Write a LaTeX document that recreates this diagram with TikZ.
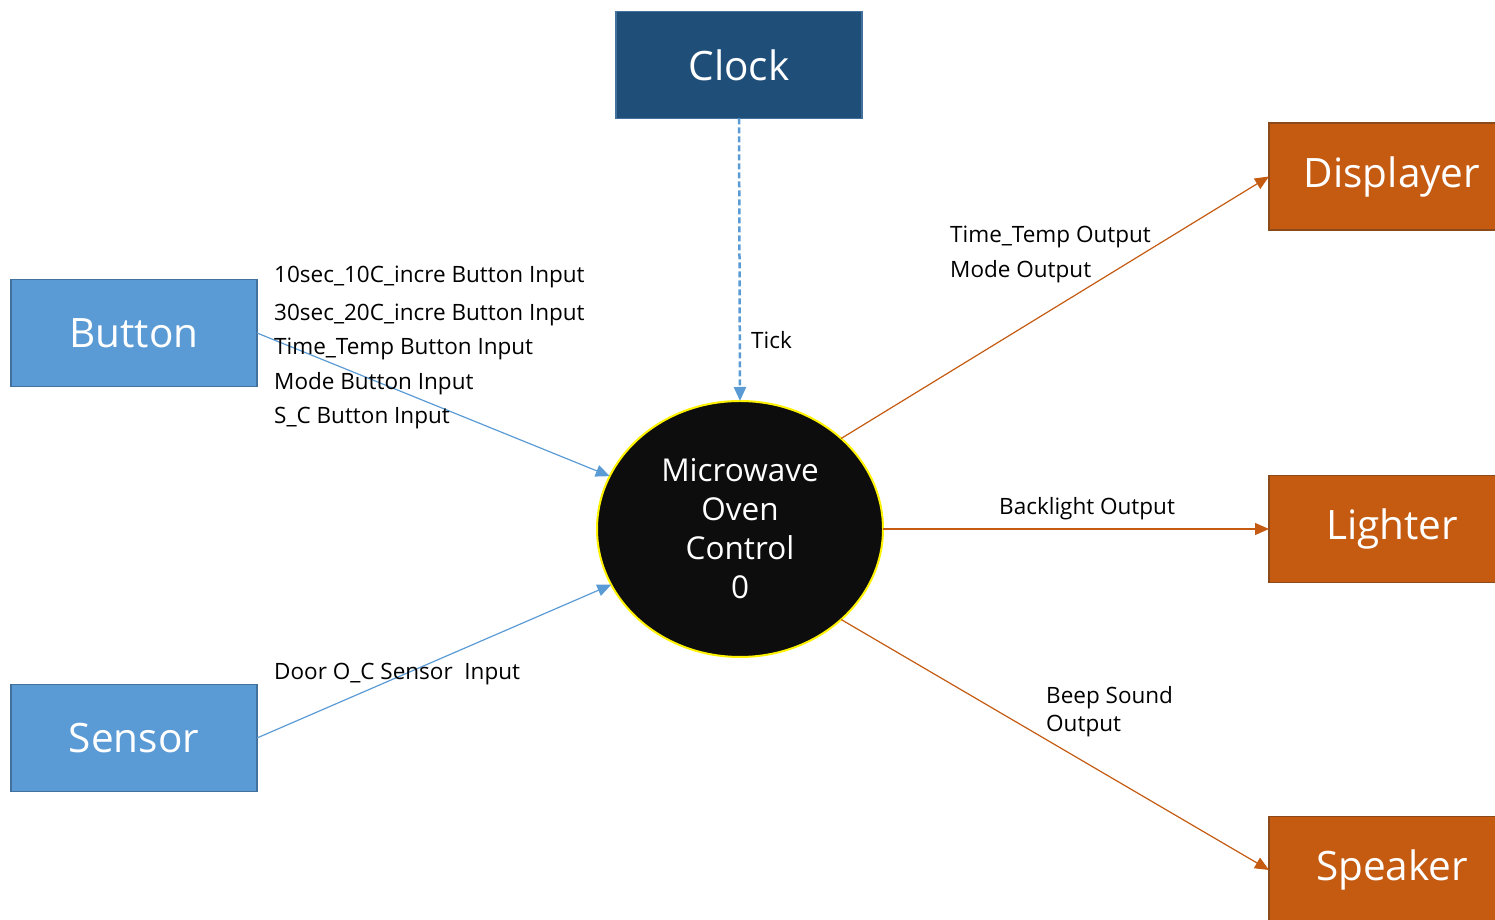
\documentclass[tikz,border=0pt]{standalone}
\usepackage{fontspec}
\setmainfont{Open Sans}
\usetikzlibrary{arrows.meta,shapes.geometric}
\definecolor{clockfill}{HTML}{1F4E79}
\definecolor{blueedge}{HTML}{41719C}
\definecolor{bluefill}{HTML}{5B9BD5}
\definecolor{orangefill}{HTML}{C55A11}
\definecolor{orangeedge}{HTML}{8C4A1A}
\definecolor{ovalfill}{HTML}{0D0D0D}
\tikzset{
  box/.style={rectangle, minimum width=246pt, minimum height=107pt, line width=1.5pt, text=white, inner sep=0pt, outer sep=0pt, font=\fontsize{40.5}{48}\selectfont},
  inbox/.style={box, fill=bluefill, draw=blueedge},
  outbox/.style={box, fill=orangefill, draw=orangeedge},
  clockbox/.style={box, fill=clockfill, draw=blueedge},
  proc/.style={ellipse, minimum width=286pt, minimum height=256pt, inner sep=0pt, outer sep=0pt, fill=ovalfill, draw=yellow, line width=2pt, text=white, align=center, font=\fontsize{31.5}{39}\selectfont},
  lbl/.style={anchor=west, inner sep=0pt, text=black, font=\fontsize{22.5}{34}\selectfont, align=left},
  inflow/.style={draw=bluefill, line width=1.2pt, -{Triangle[length=14pt,width=12pt]}},
  outflow/.style={draw=orangefill, line width=1.2pt, -{Triangle[length=14pt,width=12pt]}},
}
\begin{document}
\begin{tikzpicture}[x=1pt,y=1pt]
\useasboundingbox (0,0) rectangle (1495,920);
\clip (0,0) rectangle (1495,920);
\node[clockbox] (clock) at (739,855) {Clock};
\node[inbox] (button) at (134,587) {Button};
\node[inbox] (sensor) at (134,182) {Sensor};
\node[outbox] (disp) at (1392,743.5) {Displayer};
\node[outbox] (light) at (1392,391) {Lighter};
\node[outbox] (spk) at (1392,50) {Speaker};
\node[proc] (mw) at (740,391) {Microwave\\Oven\\Control\\0};

\draw[draw=bluefill, line width=2.5pt, dashed, dash pattern=on 6pt off 3pt, -{Triangle[length=14pt,width=12pt]}] (clock.south) -- (mw.north);
\draw[inflow] (button.east) -- (mw);
\draw[inflow] (sensor.east) -- (mw);
\draw[outflow] (mw.north east) -- (disp.west);
\draw[outflow] (mw.east) -- (light.west);
\draw[outflow] (mw.south east) -- (spk.west);

\node[lbl] (tick) at (751,580) {Tick};
\node[lbl] (b1) at (274,643) {10sec\_10C\_incre Button Input};
\node[lbl] (b2) at (274,605) {30sec\_20C\_incre Button Input};
\node[lbl] (b3) at (274,571) {Time\_Temp Button Input};
\node[lbl] (b4) at (274,536) {Mode Button Input};
\node[lbl] (b5) at (274,502) {S\_C Button Input};
\node[lbl] (door) at (274,246) {Door O\_C Sensor\ \ Input};
\node[lbl] (o1) at (950,683) {Time\_Temp Output};
\node[lbl] (o2) at (950,648) {Mode Output};
\node[lbl] (o3) at (999,411) {Backlight Output};
\node[lbl, font=\fontsize{22.5}{28}\selectfont] (o4) at (1046,208) {Beep Sound\\Output};
\end{tikzpicture}
\end{document}
